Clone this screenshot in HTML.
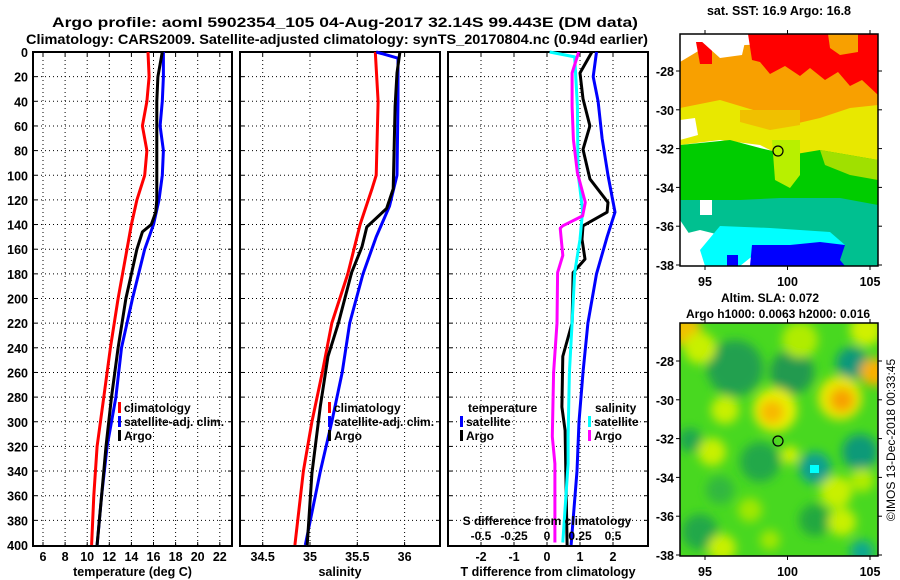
<!DOCTYPE html>
<html><head><meta charset="utf-8">
<style>
html,body{margin:0;padding:0;background:#fff;}
svg{display:block;font-family:"Liberation Sans",Arial,sans-serif;font-weight:bold;}
</style></head>
<body>
<svg id="fig" width="900" height="580" viewBox="0 0 900 580" xmlns="http://www.w3.org/2000/svg">
<defs>
<filter id="blur" x="-20%" y="-20%" width="140%" height="140%"><feGaussianBlur stdDeviation="5"/></filter>
<clipPath id="clipMap1"><rect x="680" y="34" width="198" height="232"/></clipPath>
<clipPath id="clipMap2"><rect x="680" y="323" width="198" height="233"/></clipPath>
</defs>
<text x="52" y="27" font-size="14" textLength="586" lengthAdjust="spacingAndGlyphs">Argo profile: aoml 5902354_105 04-Aug-2017 32.14S 99.443E (DM data)</text>
<text x="26" y="44" font-size="14" textLength="622" lengthAdjust="spacingAndGlyphs">Climatology: CARS2009. Satellite-adjusted climatology: synTS_20170804.nc (0.94d earlier)</text>
<g id="plots"></g>
<g id="maps"></g>
</svg>
<script>
// ---- data ----
const tClimDepth = [0,20,40,60,80,100,120,140,160,200,240,280,320,360,400];
const tClimVal   = [15.5,15.6,15.4,15.0,15.4,15.2,14.5,14.0,13.6,12.8,12.1,11.5,10.9,10.6,10.4];
const tSatDepth  = [0,20,40,60,80,100,120,140,160,200,240,280,320,360,400];
const tSatVal    = [16.9,16.9,16.8,16.6,16.9,16.8,16.5,16.0,15.2,14.1,13.1,12.6,11.8,11.3,10.9];
const tArgoDepth = [0,10,20,40,60,80,100,120,130,140,146,160,180,200,240,280,320,360,400];
const tArgoVal   = [16.8,16.6,16.4,16.3,16.3,16.3,16.3,16.3,16.2,15.8,15.0,14.5,14.0,13.5,12.8,12.2,11.7,11.3,10.9];

const sClimDepth = [0,40,100,110,140,180,220,260,300,340,400];
const sClimVal   = [35.69,35.72,35.70,35.66,35.53,35.40,35.23,35.13,35.02,34.93,34.84];
const sSatDepth  = [0,5,40,100,125,150,180,220,260,300,340,400];
const sSatVal    = [35.70,35.93,35.93,35.92,35.84,35.70,35.56,35.42,35.34,35.23,35.11,34.95];
const sArgoDepth = [0,17,44,111,127,142,158,179,220,247,287,342,400];
const sArgoVal   = [35.95,35.92,35.90,35.88,35.81,35.60,35.55,35.44,35.30,35.19,35.11,35.02,34.97];

const dTSatDepth  = [0,20,40,70,100,130,150,180,220,260,300,340,400];
const dTSatVal    = [1.5,1.4,1.55,1.67,1.85,2.06,1.82,1.5,1.24,1.09,0.97,0.91,0.73];
const dTArgoDepth = [0,17,38,60,79,103,122,130,141,152,168,179,220,247,288,307,400];
const dTArgoVal   = [1.36,1.0,1.09,1.3,1.09,1.3,1.85,1.82,1.09,1.06,1.15,0.79,0.76,0.48,0.45,0.55,0.61];
const dSSatDepth  = [0,4,44,98,111,129,152,179,220,260,312,334,398];
const dSSatVal    = [0.02,0.21,0.23,0.235,0.25,0.27,0.25,0.21,0.19,0.17,0.16,0.16,0.12];
const dSArgoDepth = [0,17,44,71,98,122,133,141,143,165,179,220,260,312,334,398];
const dSArgoVal   = [0.24,0.19,0.19,0.20,0.23,0.29,0.27,0.12,0.10,0.12,0.08,0.076,0.05,0.04,0.06,0.06];

const depthTicks = [0,20,40,60,80,100,120,140,160,180,200,220,240,260,280,300,320,340,360,380,400];
const tTicks = [6,8,10,12,14,16,18,20,22];
const sTicks = [34.5,35,35.5,36];
const sTickLabels = ["34.5","35","35.5","36"];
const dTTicks = [-2,-1,0,1,2];
const dSTicks = [-0.5,-0.25,0,0.25,0.5];
const dSTickLabels = ["-0.5","-0.25","0","0.25","0.5"];
const latTicks = [-28,-30,-32,-34,-36,-38];
const lonTicks = [95,100,105];

// ---- scales ----
const TOP=52, BOT=546;
const yD = d => 52 + d*1.2325;
const xT = v => 43 + (v-6)*11.05;
const xS = v => 310 + (v-35)*94.6;
const xDT = v => 547 + v*33;
const xDS = v => 547 + v*132;
const lonX = v => 705 + (v-95)*16.5;
const lat1Y = v => 71 + (-28 - v)*19.4;
const lat2Y = v => 361 + (-28 - v)*19.4;

const NS="http://www.w3.org/2000/svg";
const plots=document.getElementById('plots');
const maps=document.getElementById('maps');
function mk(tag, attrs, parent){
  const e=document.createElementNS(NS,tag);
  for(const k in attrs) e.setAttribute(k,attrs[k]);
  (parent||plots).appendChild(e); return e;
}
function txt(s, attrs, parent){const e=mk('text',attrs,parent); e.textContent=s; return e;}

function panel(name,x0,x1,xTicks,xfn,xLabels,xTitle){
  const g=mk('g',{});
  
  
  xTicks.forEach((t)=>{
    const gl=mk('line',{x1:xfn(t),x2:xfn(t),y1:TOP,y2:BOT,stroke:'#000','stroke-width':1,'stroke-dasharray':'1,3'},g);
    
    
  });
  depthTicks.forEach(d=>{
    if(d===0||d===400) return;
    const gl=mk('line',{x1:x0,x2:x1,y1:yD(d),y2:yD(d),stroke:'#000','stroke-width':1,'stroke-dasharray':'1,3'},g);
    
    
    mk('line',{x1:x0,x2:x0+4,y1:yD(d),y2:yD(d),stroke:'#000'},g);
    mk('line',{x1:x1-4,x2:x1,y1:yD(d),y2:yD(d),stroke:'#000'},g);
  });
  xTicks.forEach((t,i)=>{
    mk('line',{x1:xfn(t),x2:xfn(t),y1:BOT-4,y2:BOT,stroke:'#000'},g);
    mk('line',{x1:xfn(t),x2:xfn(t),y1:TOP,y2:TOP+4,stroke:'#000'},g);
    const tl=txt(xLabels[i],{x:xfn(t),y:561,'font-size':12.5,'text-anchor':'middle'},g);
    
    
  });
  const fr=mk('rect',{x:x0,y:TOP,width:x1-x0,height:BOT-TOP,fill:'none',stroke:'#000','stroke-width':2},g);
  
  
  const tt=txt(xTitle,{x:(x0+x1)/2,y:576,'font-size':12.5,'text-anchor':'middle'},g);
  
  
  return g;
}
function line(depths,vals,xfn,color,name){
  const pts=depths.map((d,i)=>xfn(vals[i]).toFixed(1)+','+yD(d).toFixed(1)).join(' ');
  const p=mk('polyline',{points:pts,fill:'none',stroke:color,'stroke-width':3,'stroke-linejoin':'round'});
  
  
}
function legendEntry(x,y,color,label,name){
  const g=mk('g',{});
  
  
  mk('rect',{x:x,y:y-10,width:3,height:11,fill:color},g);
  txt(label,{x:x+6,y:y,'font-size':12},g);
}

depthTicks.forEach(d=>{
  const l=txt(String(d),{x:28,y:yD(d)+5,'font-size':12.5,'text-anchor':'end'});
  
  
});

panel('temperature-panel',33,232,tTicks,xT,tTicks.map(String),'temperature (deg C)');
panel('salinity-panel',240,440,sTicks,xS,sTickLabels,'salinity');
panel('difference-panel',448,648,dTTicks,xDT,dTTicks.map(String),'T difference from climatology');

line(tClimDepth,tClimVal,xT,'#ff0000','temp-climatology-line');
line(tSatDepth,tSatVal,xT,'#0000ff','temp-satellite-line');
line(tArgoDepth,tArgoVal,xT,'#000000','temp-argo-line');
line(sClimDepth,sClimVal,xS,'#ff0000','sal-climatology-line');
line(sSatDepth,sSatVal,xS,'#0000ff','sal-satellite-line');
line(sArgoDepth,sArgoVal,xS,'#000000','sal-argo-line');
line(dTSatDepth,dTSatVal,xDT,'#0000ff','tdiff-satellite-line');
line(dTArgoDepth,dTArgoVal,xDT,'#000000','tdiff-argo-line');
line(dSSatDepth,dSSatVal,xDS,'#00ffff','sdiff-satellite-line');
line(dSArgoDepth,dSArgoVal,xDS,'#ff00ff','sdiff-argo-line');

legendEntry(118,412,'#ff0000','climatology','legend-climatology');
legendEntry(118,426,'#0000ff','satellite-adj. clim.','legend-satellite-adj');
legendEntry(118,440,'#000000','Argo','legend-argo');
legendEntry(328,412,'#ff0000','climatology','legend-climatology-sal');
legendEntry(328,426,'#0000ff','satellite-adj. clim.','legend-satellite-adj-sal');
legendEntry(328,440,'#000000','Argo','legend-argo-sal');
const lt=txt('temperature',{x:468,y:412,'font-size':12});


legendEntry(460,426,'#0000ff','satellite','legend-t-satellite');
legendEntry(460,440,'#000000','Argo','legend-t-argo');
const ls=txt('salinity',{x:595,y:412,'font-size':12});


legendEntry(588,426,'#00ffff','satellite','legend-s-satellite');
legendEntry(588,440,'#ff00ff','Argo','legend-s-argo');
const st=txt('S difference from climatology',{x:547,y:525,'font-size':12,'text-anchor':'middle'});


dSTicks.forEach((t,i)=>{
  const l=txt(dSTickLabels[i],{x:xDS(t),y:540,'font-size':12,'text-anchor':'middle'});
  
  
});

// ---- maps ----
function M(tag,attrs,parent){return mk(tag,attrs,parent||maps);}
const m1=M('g',{'clip-path':'url(#clipMap1)'});


M('rect',{x:680,y:34,width:198,height:232,fill:'#fff'},m1);
const sstRegions=[
 ['#f8a000','680,62 700,50 745,45 878,40 878,130 800,135 680,125'],
 ['#ff0000','748,34 878,34 878,95 862,80 850,86 838,72 825,80 810,68 800,76 785,66 770,74 760,62 752,60'],
 ['#f8a000','828,34 858,34 858,52 840,55 830,48'],
 ['#ff0000','696,42 712,42 712,64 700,64'],
 ['#e8e800','680,108 720,100 760,112 790,125 820,118 850,108 878,105 878,160 820,152 790,160 760,145 720,140 680,145'],
 ['#f0c000','740,110 800,110 800,125 770,130 740,122'],
 ['#00cc00','680,145 730,140 760,148 790,155 820,150 878,160 878,210 820,200 780,205 740,210 700,205 680,210'],
 ['#b8f000','772,140 800,140 800,175 790,188 775,180'],
 ['#a0e000','820,150 878,160 878,180 850,175 825,165'],
 ['#00c090','680,200 740,200 780,198 840,198 878,205 878,266 840,266 830,235 760,230 720,235 700,230 680,235'],
 ['#00ffff','720,226 770,228 830,232 845,245 760,250 740,266 705,266 700,250'],
 ['#0000ff','752,245 790,245 820,242 845,245 840,260 845,266 750,266'],
 ['#0000ff','727,255 738,255 738,266 727,266'],
 ['#ffffff','680,120 695,118 698,135 680,140'],
 ['#ffffff','680,220 690,235 700,266 680,266'],
 ['#ffffff','700,40 730,38 745,42 742,55 720,58'],
 ['#ffffff','700,200 712,200 712,215 700,215']
];
sstRegions.forEach(r=>{
  const p=M('polygon',{points:r[1],fill:r[0]},m1);
  
  
});
const m2=M('g',{'clip-path':'url(#clipMap2)'});


M('rect',{x:680,y:323,width:198,height:233,fill:'#48d820'},m2);
const blobG=M('g',{filter:'url(#blur)'},m2);
const slaBlobs=[
 [735,368,28,'#20a050'],[792,372,22,'#209a50'],[852,363,16,'#10987a'],[860,452,18,'#109a78'],
 [760,462,20,'#20a848'],[815,520,16,'#22a840'],[700,532,18,'#20a848'],[862,552,12,'#08a890'],
 [815,468,16,'#10a090'],[690,440,12,'#1fa850'],[720,490,14,'#30b840'],
 [685,330,16,'#f0c000'],[700,348,16,'#c8f000'],[775,410,22,'#e8f000'],[772,412,12,'#f8b800'],
 [840,398,22,'#e8e800'],[842,400,12,'#f8a000'],[874,372,14,'#f8b000'],[866,330,16,'#d0f000'],
 [725,410,14,'#c8f000'],[712,452,14,'#c8f000'],[836,492,16,'#c8f000'],[842,522,14,'#c8f000'],
 [722,548,14,'#c8f000'],[790,455,9,'#d0f000'],[800,340,18,'#b0ec00'],[750,510,12,'#a0e800'],
 [862,480,12,'#b0ec00'],[770,540,10,'#a0e800']
];
slaBlobs.forEach(b=>{
  const c=M('circle',{cx:b[0],cy:b[1],r:b[2],fill:b[3]},blobG);
  
  
});
M('rect',{x:810,y:465,width:9,height:8,fill:'#00ffff'},m2);

[[34,266,lat1Y,'sst-map-frame'],[323,556,lat2Y,'sla-map-frame']].forEach(f=>{
  const fr=M('rect',{x:680,y:f[0],width:198,height:f[1]-f[0],fill:'none',stroke:'#000','stroke-width':1.5});
  
  
  latTicks.forEach(t=>{
    const y=f[2](t);
    M('line',{x1:676,x2:680,y1:y,y2:y,stroke:'#000'});
    M('line',{x1:878,x2:882,y1:y,y2:y,stroke:'#000'});
    const l=txt(String(t),{x:674,y:y+5,'font-size':12.5,'text-anchor':'end'},maps);
    
    
  });
  lonTicks.forEach(t=>{
    M('line',{x1:lonX(t),x2:lonX(t),y1:f[1],y2:f[1]+4,stroke:'#000'});
    M('line',{x1:lonX(t),x2:lonX(t),y1:f[0]-4,y2:f[0],stroke:'#000'});
    const l=txt(String(t),{x:lonX(t),y:f[1]+20,'font-size':12.5,'text-anchor':'middle'},maps);
    
    
  });
});
const c1=M('circle',{cx:778,cy:151,r:5,fill:'none',stroke:'#000','stroke-width':1.2});


const c2=M('circle',{cx:778,cy:441,r:5,fill:'none',stroke:'#000','stroke-width':1.2});


const mt1=txt('sat. SST: 16.9 Argo: 16.8',{x:779,y:15,'font-size':12.5,'text-anchor':'middle'},maps);


const mt2=txt('Altim. SLA: 0.072',{x:770,y:302,'font-size':12,'text-anchor':'middle'},maps);


const mt3=txt('Argo h1000: 0.0063 h2000: 0.016',{x:778,y:318,'font-size':12,'text-anchor':'middle'},maps);


const cp=txt('©IMOS 13-Dec-2018 00:33:45',{x:0,y:0,'font-size':12,'font-weight':'normal','text-anchor':'middle',transform:'translate(895,440) rotate(-90)'},maps);


</script>
</body></html>
